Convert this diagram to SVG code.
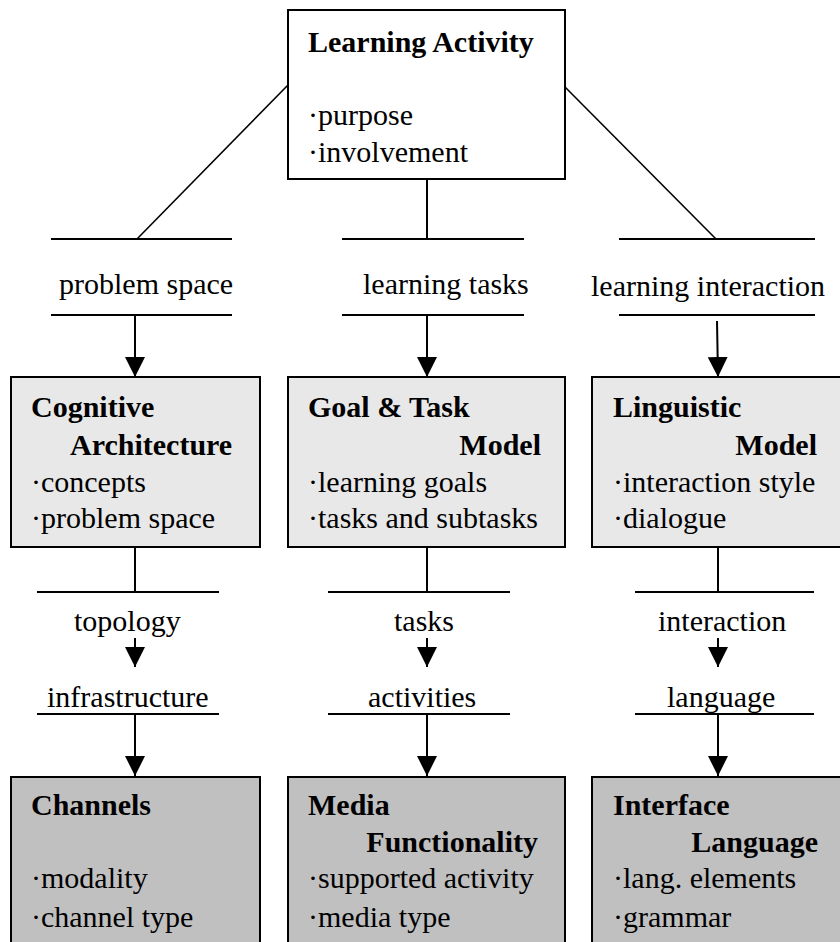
<svg xmlns="http://www.w3.org/2000/svg" width="840" height="942" viewBox="0 0 840 942">
<style>
text{font-family:"Liberation Serif","Times New Roman",serif;font-size:30px;fill:#000}
.b{font-weight:bold}
.e{text-anchor:end}
.box{stroke:#000;stroke-width:2}
.l{stroke:#000;stroke-width:2;fill:none}
.d{stroke:#000;stroke-width:1.6;fill:none}
</style>
<defs>
<marker id="ah" markerUnits="userSpaceOnUse" markerWidth="20" markerHeight="20" refX="20" refY="10" orient="auto">
<path d="M0,0 L20,10 L0,20 z" fill="#000"/>
</marker>
</defs>
<rect width="840" height="942" fill="#fff"/>
<g id="connectors">
<line class="d" x1="288" y1="85" x2="137" y2="239"/>
<line class="d" x1="565" y1="87" x2="716" y2="239"/>
<line class="l" x1="427" y1="179" x2="427" y2="239"/>
<line class="l" x1="51" y1="239" x2="232" y2="239"/>
<line class="l" x1="342" y1="239" x2="524" y2="239"/>
<line class="l" x1="619" y1="239" x2="815" y2="239"/>
<line class="l" x1="51" y1="315" x2="232" y2="315"/>
<line class="l" x1="342" y1="315" x2="524" y2="315"/>
<line class="l" x1="619" y1="315" x2="815" y2="315"/>
<line class="l" x1="135" y1="315" x2="135" y2="377" marker-end="url(#ah)"/>
<line class="l" x1="427" y1="315" x2="427" y2="377" marker-end="url(#ah)"/>
<line class="l" x1="717" y1="321" x2="718" y2="377" marker-end="url(#ah)"/>
<line class="l" x1="135" y1="547" x2="135" y2="592"/>
<line class="l" x1="427" y1="547" x2="427" y2="592"/>
<line class="l" x1="718" y1="547" x2="718" y2="592"/>
<line class="l" x1="37" y1="592" x2="219" y2="592"/>
<line class="l" x1="328" y1="592" x2="510" y2="592"/>
<line class="l" x1="635" y1="592" x2="814" y2="592"/>
<line class="l" x1="135" y1="638" x2="135" y2="667" marker-end="url(#ah)"/>
<line class="l" x1="427" y1="638" x2="427" y2="667" marker-end="url(#ah)"/>
<line class="l" x1="718" y1="638" x2="718" y2="667" marker-end="url(#ah)"/>
<line class="l" x1="37" y1="714" x2="219" y2="714"/>
<line class="l" x1="328" y1="714" x2="510" y2="714"/>
<line class="l" x1="635" y1="714" x2="814" y2="714"/>
<line class="l" x1="135" y1="714" x2="135" y2="776" marker-end="url(#ah)"/>
<line class="l" x1="427" y1="714" x2="427" y2="776" marker-end="url(#ah)"/>
<line class="l" x1="718" y1="714" x2="718" y2="776" marker-end="url(#ah)"/>
</g>
<g id="labels">
<text x="59" y="294">problem space</text>
<text x="363" y="294">learning tasks</text>
<text x="591" y="296">learning interaction</text>
<text x="74" y="631">topology</text>
<text x="394" y="631">tasks</text>
<text x="658" y="631">interaction</text>
<text x="47" y="707">infrastructure</text>
<text x="368" y="707">activities</text>
<text x="667" y="707">language</text>
</g>
<g id="learning-activity">
<rect class="box" x="288" y="10" width="277" height="169" fill="#fff"/>
<text class="b" x="308" y="52">Learning Activity</text>
<text x="308" y="125">·purpose</text>
<text x="308" y="162">·involvement</text>
</g>
<g id="cognitive-architecture">
<rect class="box" x="11" y="377" width="249" height="170" fill="#e8e8e8"/>
<text class="b" x="31" y="417">Cognitive</text>
<text class="b" x="70" y="455">Architecture</text>
<text x="31" y="492">·concepts</text>
<text x="31" y="528">·problem space</text>
</g>
<g id="goal-task-model">
<rect class="box" x="288" y="377" width="277" height="170" fill="#e8e8e8"/>
<text class="b" x="308" y="417">Goal &amp; Task</text>
<text class="b e" x="541" y="455">Model</text>
<text x="308" y="492">·learning goals</text>
<text x="308" y="528">·tasks and subtasks</text>
</g>
<g id="linguistic-model">
<rect class="box" x="592" y="377" width="277" height="170" fill="#e8e8e8"/>
<text class="b" x="613" y="417">Linguistic</text>
<text class="b e" x="817" y="455">Model</text>
<text x="613" y="492">·interaction style</text>
<text x="613" y="528">·dialogue</text>
</g>
<g id="channels">
<rect class="box" x="11" y="777" width="249" height="180" fill="#c0c0c0"/>
<text class="b" x="31" y="815">Channels</text>
<text x="31" y="888">·modality</text>
<text x="31" y="927">·channel type</text>
</g>
<g id="media-functionality">
<rect class="box" x="288" y="777" width="277" height="180" fill="#c0c0c0"/>
<text class="b" x="308" y="815">Media</text>
<text class="b e" x="538" y="852">Functionality</text>
<text x="308" y="888">·supported activity</text>
<text x="308" y="927">·media type</text>
</g>
<g id="interface-language">
<rect class="box" x="592" y="777" width="277" height="180" fill="#c0c0c0"/>
<text class="b" x="613" y="815">Interface</text>
<text class="b e" x="818" y="852">Language</text>
<text x="613" y="888">·lang. elements</text>
<text x="613" y="927">·grammar</text>
</g>
</svg>
